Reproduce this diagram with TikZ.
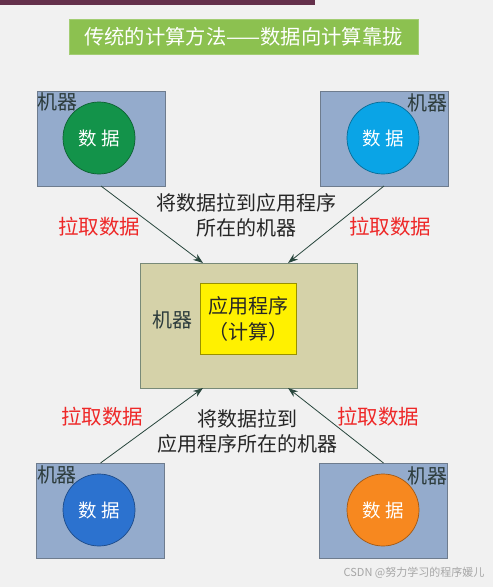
\documentclass[tikz,border=0pt]{standalone}
\usepackage{fontspec}
\setmainfont{Noto Sans CJK SC}
\usetikzlibrary{arrows.meta}

\definecolor{bgcol}{RGB}{241,241,241}
\definecolor{titlecol}{RGB}{140,193,80}
\definecolor{boxcol}{RGB}{148,171,204}
\definecolor{boxline}{RGB}{110,124,142}
\definecolor{midcol}{RGB}{213,210,169}
\definecolor{midline}{RGB}{120,138,120}
\definecolor{appcol}{RGB}{255,241,0}
\definecolor{arrowcol}{RGB}{40,70,60}
\definecolor{pullred}{RGB}{238,40,40}
\definecolor{labelcol}{RGB}{45,60,60}
\definecolor{greendata}{RGB}{19,147,74}
\definecolor{skydata}{RGB}{10,164,230}
\definecolor{bluedata}{RGB}{44,114,207}
\definecolor{orangedata}{RGB}{247,136,31}
\definecolor{topbar}{RGB}{100,48,75}

\tikzset{
  machine/.style={draw=boxline, fill=boxcol, line width=0.8pt, outer sep=0pt,
    minimum width=128pt, minimum height=95pt, inner sep=0pt},
  datacircle/.style={circle, draw=#1!65!black, fill=#1, line width=0.7pt,
    minimum size=72pt, inner sep=0pt, text=white, font=\fontsize{18.5}{20}\selectfont},
  maclabel/.style={text=labelcol, font=\fontsize{20}{22}\selectfont, inner sep=0pt},
  pull/.style={text=pullred, font=\fontsize{20.5}{22}\selectfont, inner sep=0pt},
  note/.style={text=black!85, font=\fontsize{20}{25}\selectfont, align=center, inner sep=0pt},
  pullarrow/.style={draw=arrowcol, line width=0.8pt, -{Stealth[length=10pt,width=7pt]}}
}

\begin{document}
\begin{tikzpicture}[x=1pt,y=-1pt]
\useasboundingbox (0,0) rectangle (493,587);
\fill[bgcol] (0,0) rectangle (493,587);
\fill[topbar] (0,0) rectangle (315,5); % top bar

% title
\node[fill=titlecol, draw=titlecol!80!white, minimum width=349pt, minimum height=35pt,
  text=white, font=\fontsize{20.3}{24}\selectfont, inner sep=0pt] (title) at (243.5,36.5)
  {传统的计算方法——数据向计算靠拢};

% machines with data
\node[machine] (tl) at (101,138.5) {};
\node[datacircle=greendata] (dtl) at (99,138) {数 据};
\node[maclabel] (ltl) at (57.5,102) {机器};

\node[machine] (tr) at (384,138.5) {};
\node[datacircle=skydata] (dtr) at (383,138) {数 据};
\node[maclabel] (ltr) at (427,103) {机器};

\node[machine] (bl) at (100.5,510.5) {};
\node[datacircle=bluedata] (dbl) at (99,510) {数 据};
\node[maclabel] (lbl) at (57,475) {机器};

\node[machine] (br) at (383.5,510.5) {};
\node[datacircle=orangedata] (dbr) at (383,510) {数 据};
\node[maclabel] (lbr) at (427,476) {机器};

% machine running the application
\node[draw=midline, fill=midcol, line width=0.8pt, outer sep=0pt, inner sep=0pt,
  minimum width=217pt, minimum height=125pt] (mid) at (248.5,325.5) {};
\node[draw=appcol!60!black, fill=appcol, line width=0.6pt, inner sep=0pt,
  minimum width=96pt, minimum height=71pt, align=center, text=black!85,
  font=\fontsize{20}{26}\selectfont] (app) at (248,318.5) {应用程序\\（计算）};
\node[maclabel] (lmid) at (172,320) {机器};

% connectors
\draw[pullarrow] (tl.south) -- ([xshift=-45.5pt]mid.north);
\draw[pullarrow] (tr.south) -- ([xshift=39.5pt]mid.north);
\draw[pullarrow] (bl.north) -- ([xshift=-45.5pt]mid.south);
\draw[pullarrow] (br.north) -- ([xshift=39.5pt]mid.south);

% labels
\node[pull] (ptl) at (99,227) {拉取数据};
\node[pull] (ptr) at (390,227) {拉取数据};
\node[pull] (pbl) at (102,417) {拉取数据};
\node[pull] (pbr) at (378,417) {拉取数据};
\node[note] (ntop) at (246,215.5) {将数据拉到应用程序\\所在的机器};
\node[note] (nbot) at (247,431.5) {将数据拉到\\应用程序所在的机器};

\node[text=black!35, font=\fontsize{11}{13}\selectfont, inner sep=0pt] (mark) at (414,573)
  {CSDN @努力学习的程序媛儿};
\end{tikzpicture}
\end{document}
